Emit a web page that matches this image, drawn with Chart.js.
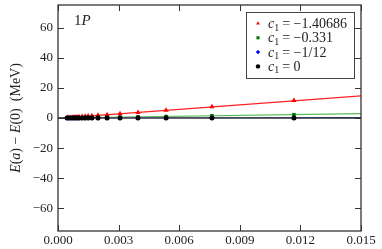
<!DOCTYPE html>
<html>
<head>
<meta charset="utf-8">
<script src="https://cdn.jsdelivr.net/npm/chart.js@4.4.1/dist/chart.umd.min.js"></script>
<style>
  html, body { margin: 0; padding: 0; background: #fff; }
  #wrap { width: 382px; height: 249px; }
</style>
</head>
<body>
<div id="wrap"><canvas id="myChart" width="382" height="249"></canvas></div>
<script>
// tick labels
const xTicks = [0, 0.003, 0.006, 0.009, 0.012, 0.015];
const yTicks = [-60, -40, -20, 0, 20, 40, 60];

// lattice spacings
const aValues = [0.00045, 0.00054, 0.00064, 0.00074, 0.00084, 0.00094, 0.00104, 0.00119, 0.00134,
                 0.00149, 0.00168, 0.00198, 0.00243, 0.00307, 0.00396, 0.00535, 0.00762, 0.01168];

// E(a) - E(0) in MeV, one list per c1
const redE   = [0.3, 0.3, 0.4, 0.5, 0.6, 0.7, 0.8, 1.0, 1.1, 1.3, 1.5, 1.8, 2.2, 2.9, 3.7, 5.1, 7.4, 11.6];
const greenE = [0.1, 0.1, 0.1, 0.1, 0.2, 0.2, 0.2, 0.2, 0.3, 0.3, 0.3, 0.4, 0.5, 0.6, 0.8, 1.0, 1.5, 2.2];
const blueE  = [0.0, 0.0, 0.0, 0.0, 0.0, 0.0, 0.0, 0.0, 0.0, 0.0, 0.0, 0.0, 0.0, 0.0, 0.1, 0.1, 0.1, 0.2];
const blackE = [0.0, 0.0, 0.0, 0.0, 0.0, 0.0, 0.0, 0.0, 0.0, 0.0, 0.0, 0.0, 0.0, 0.0, 0.0, 0.0, 0.0, 0.0];

// fitted straight lines, end points
const fitX     = [0, 0.015];
const redFit   = [-0.2, 14.7];
const greenFit = [0.0, 2.9];
const blueFit  = [0.0, 0.2];
const blackFit = [0.0, -0.1];

const seriesLabels = ['−1.40686', '−0.331', '−1/12', '0'];
const seriesColors = ['#ff0000', '#007700', '#0000ff', '#000000'];
const lineColors = ['#ff2020', '#55bb55', '#202060', '#404040'];
const seriesStyles = ['triangle', 'rect', 'rectRot', 'circle'];

const SERIF = '"Liberation Serif", "DejaVu Serif", serif';

let toPoints = (xs, ys) => xs.map((x, i) => ({x: x, y: ys[i]}));

let pointSet = (k, ys) => ({
    label: seriesLabels[k],
    data: toPoints(aValues, ys),
    showLine: false,
    pointStyle: seriesStyles[k],
    pointRadius: k === 0 ? 3 : 2.5,
    backgroundColor: seriesColors[k],
    borderColor: seriesColors[k],
    borderWidth: 0,
    order: 3 - k
});

let lineSet = (k, ys) => ({
    label: 'fit' + k,
    data: toPoints(fitX, ys),
    showLine: true,
    pointRadius: 0,
    borderColor: lineColors[k],
    borderWidth: 1.2,
    order: 10 - k
});

// draws text pieces [text, italic?] one after another from x, y
let drawPieces = (ctx, pieces, x, y, size) => {
    pieces.forEach(p => {
        ctx.font = (p[1] ? 'italic ' : '') + size + 'px ' + SERIF;
        ctx.fillText(p[0], x, y);
        x += ctx.measureText(p[0]).width;
    });
};

let piecesWidth = (ctx, pieces, size) => pieces.reduce((w, p) => {
    ctx.font = (p[1] ? 'italic ' : '') + size + 'px ' + SERIF;
    return w + ctx.measureText(p[0]).width;
}, 0);

// frame, inward ticks, y title, legend and the "1P" label
const decorations = {
    id: 'decorations',
    afterDraw(chart) {
        const ctx = chart.ctx;
        const area = chart.chartArea;
        const xs = chart.scales.x, ys = chart.scales.y;
        ctx.save();
        ctx.strokeStyle = '#333';
        ctx.lineWidth = 1.3;
        ctx.strokeRect(area.left, area.top, area.right - area.left, area.bottom - area.top);
        ctx.lineWidth = 1;
        ctx.beginPath();
        xTicks.forEach(v => {
            const px = Math.round(xs.getPixelForValue(v)) + 0.5;
            ctx.moveTo(px, area.bottom); ctx.lineTo(px, area.bottom - 6);
            ctx.moveTo(px, area.top); ctx.lineTo(px, area.top + 6);
        });
        yTicks.forEach(v => {
            const py = Math.round(ys.getPixelForValue(v)) + 0.5;
            ctx.moveTo(area.left, py); ctx.lineTo(area.left + 6, py);
            ctx.moveTo(area.right, py); ctx.lineTo(area.right - 6, py);
        });
        ctx.stroke();

        ctx.fillStyle = '#222';
        ctx.textBaseline = 'alphabetic';

        // y title
        const title = [['E', true], ['(', false], ['a', true], [') − ', false], ['E', true], ['(0)  (MeV)', false]];
        const tw = piecesWidth(ctx, title, 14);
        ctx.save();
        ctx.translate(20, (area.top + area.bottom) / 2);
        ctx.rotate(-Math.PI / 2);
        drawPieces(ctx, title, -tw / 2, 0, 14);
        ctx.restore();

        // 1P
        drawPieces(ctx, [['1', false], ['P', true]], area.left + 16, area.top + 20, 15);

        // legend
        const bx = 246, by = 12, bw = 108, bh = 66;
        ctx.fillStyle = '#fff';
        ctx.fillRect(bx, by, bw, bh);
        ctx.strokeStyle = '#444';
        ctx.lineWidth = 1;
        ctx.strokeRect(bx + 0.5, by + 0.5, bw, bh);
        seriesLabels.forEach((lab, k) => {
            const cy = by + 11.5 + k * 14.3;
            const ds = chart.data.datasets.find(d => d.label === lab);
            ctx.fillStyle = seriesColors[k];
            Chart.helpers.drawPoint(ctx, {pointStyle: seriesStyles[k], radius: 2.2, borderWidth: 0}, 258, cy);
            ctx.fillStyle = '#222';
            let tx = 268;
            ctx.font = 'italic 14px ' + SERIF;
            ctx.fillText('c', tx, cy + 4.5);
            tx += ctx.measureText('c').width;
            ctx.font = '10px ' + SERIF;
            ctx.fillText('1', tx, cy + 7);
            tx += ctx.measureText('1').width + 3;
            ctx.font = '14px ' + SERIF;
            ctx.fillText('= ' + ds.label, tx, cy + 4.5);
        });
        ctx.restore();
    }
};

let init = () => {
    const ctx = document.getElementById('myChart').getContext('2d');
    new Chart(ctx, {
        type: 'scatter',
        data: {
            datasets: [
                pointSet(0, redE), pointSet(1, greenE), pointSet(2, blueE), pointSet(3, blackE),
                lineSet(0, redFit), lineSet(1, greenFit), lineSet(2, blueFit), lineSet(3, blackFit)
            ]
        },
        options: {
            responsive: false,
            animation: false,
            events: [],
            layout: { padding: { top: 5, right: 21, left: 0, bottom: 0 } },
            plugins: { legend: { display: false }, tooltip: { enabled: false } },
            scales: {
                x: {
                    type: 'linear', min: 0, max: 0.015,
                    afterBuildTicks: s => { s.ticks = xTicks.map(v => ({value: v})); },
                    afterFit: s => { s.height = 18; s.paddingLeft = 0; s.paddingRight = 0; },
                    grid: { display: false, drawTicks: false },
                    border: { display: false },
                    ticks: {
                        padding: 2, color: '#222', maxRotation: 0,
                        font: { family: SERIF, size: 13 },
                        callback: v => v.toFixed(3)
                    }
                },
                y: {
                    type: 'linear', min: -75, max: 75,
                    afterBuildTicks: s => { s.ticks = yTicks.map(v => ({value: v})); },
                    afterFit: s => { s.width = 58; s.paddingTop = 0; s.paddingBottom = 0; },
                    grid: { display: false, drawTicks: false },
                    border: { display: false },
                    ticks: {
                        padding: 5, color: '#222',
                        font: { family: SERIF, size: 13 },
                        callback: v => (v < 0 ? '−' + Math.abs(v) : '' + v)
                    }
                }
            }
        },
        plugins: [decorations]
    });
};

init();
</script>
</body>
</html>
